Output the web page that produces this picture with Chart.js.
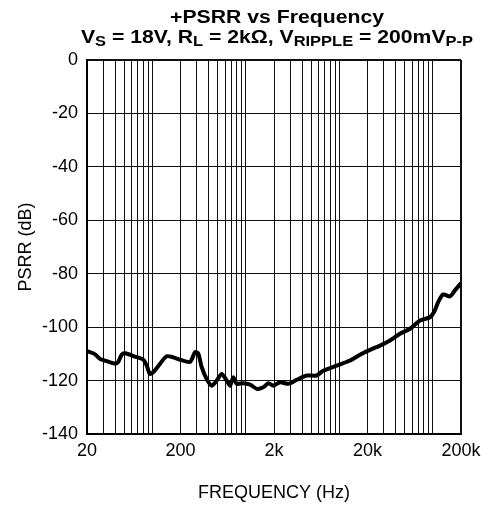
<!DOCTYPE html>
<html>
<head>
<meta charset="UTF-8">
<title>+PSRR vs Frequency</title>
<script src="https://cdn.jsdelivr.net/npm/chart.js@4.4.1/dist/chart.umd.min.js"></script>
<style>
  body { margin: 0; background: #fff; }
  #wrap { width: 490px; height: 508px; }
</style>
</head>
<body>
<div id="wrap"><canvas id="psrr" width="490" height="508"></canvas></div>
<script>
// frequency points (Hz)
const freqHz = [20, 24, 27.5, 31, 40, 43, 47, 51, 65, 80, 87, 94, 102, 121, 142, 168, 198,
  253, 286, 310, 337, 381, 431, 488, 552, 624, 677, 734, 798, 939, 1110, 1310, 1540, 1740,
  1970, 2320, 2840, 3500, 4480, 5720, 6730, 9370, 13000, 16600, 21300, 27200, 34800, 44500,
  57000, 72900, 93200, 105000, 114000, 129000, 152000, 172000, 195000, 200000];
// +PSRR (dB)
const psrrDb = [-109, -110, -111.9, -112.5, -113.7, -113.1, -110.3, -109.8, -111, -112.2, -114.4,
  -117.5, -116.9, -113.7, -110.9, -111.3, -112.2, -113, -109.4, -109.9, -115, -119.4, -121.9,
  -120, -117.5, -120, -121.9, -118.8, -121.2, -121, -121.5, -123.1, -122.5, -121, -121.9, -120.6,
  -121.2, -119.7, -118.1, -118.1, -116.3, -114.4, -112.5, -110.3, -108.5, -106.9, -105, -102.5,
  -100.6, -97.5, -96.3, -93.75, -90.6, -87.75, -88.5, -86.25, -84, -83.5];

const xTickValues = [20, 200, 2000, 20000, 200000];
const xTickLabels = ['20', '200', '2k', '20k', '200k'];

const titleLine1 = [{ t: '+PSRR vs Frequency' }];
const titleLine2 = [
  { t: 'V' }, { t: 'S', sub: true }, { t: ' = 18V, R' }, { t: 'L', sub: true },
  { t: ' = 2k\u03A9, V' }, { t: 'RIPPLE', sub: true }, { t: ' = 200mV' }, { t: 'P-P', sub: true }
];

const FONT = '"Liberation Sans", Arial, Helvetica, sans-serif';

// log grid: 1..9 x each decade, between 20 and 200k
const gridVals = [];
for (let d = 10; d <= 100000; d *= 10) {
  for (let m = 1; m <= 9; m++) {
    const v = m * d;
    if (v >= 20 && v <= 200000) gridVals.push(v);
  }
}

function drawRuns(ctx, runs, x0, baseline, targetW) {
  const mainFont = 'bold 18px ' + FONT;
  const subFont = 'bold 14px ' + FONT;
  let natural = 0;
  runs.forEach(r => {
    ctx.font = r.sub ? subFont : mainFont;
    natural += ctx.measureText(r.t).width;
  });
  const sx = targetW / natural;
  ctx.save();
  ctx.translate(x0, 0);
  ctx.scale(sx, 1);
  ctx.fillStyle = '#000';
  ctx.textBaseline = 'alphabetic';
  ctx.textAlign = 'left';
  let x = 0;
  runs.forEach(r => {
    ctx.font = r.sub ? subFont : mainFont;
    ctx.fillText(r.t, x, r.sub ? baseline + 3 : baseline);
    x += ctx.measureText(r.t).width;
  });
  ctx.restore();
}

const titlePlugin = {
  id: 'twoLineTitle',
  afterDraw(chart) {
    const ctx = chart.ctx;
    drawRuns(ctx, titleLine1, 170, 23, 214);
    drawRuns(ctx, titleLine2, 81, 42.5, 392);
  }
};

new Chart(document.getElementById('psrr'), {
  type: 'line',
  data: {
    datasets: [{
      label: '+PSRR',
      data: freqHz.map((f, i) => ({ x: f, y: psrrDb[i] })),
      borderColor: '#000',
      borderWidth: 4,
      pointRadius: 0,
      tension: 0.25,
      fill: false
    }]
  },
  options: {
    responsive: false,
    animation: false,
    layout: { padding: { top: 60, right: 29, bottom: 0, left: 0 } },
    plugins: {
      legend: { display: false },
      tooltip: { enabled: false }
    },
    scales: {
      x: {
        type: 'logarithmic',
        min: 20,
        max: 200000,
        afterFit(scale) { scale.height = 74; },
        afterBuildTicks(scale) { scale.ticks = gridVals.map(v => ({ value: v })); },
        ticks: {
          autoSkip: false,
          maxRotation: 0,
          padding: 6,
          color: '#000',
          font: { family: FONT, size: 18 },
          callback(value) {
            const k = xTickValues.indexOf(value);
            return k >= 0 ? xTickLabels[k] : '';
          }
        },
        grid: {
          color: '#111',
          lineWidth: c => (c.tick && c.tick.value === 200000 ? 2 : 1),
          drawTicks: false
        },
        border: { display: true, color: '#000', width: 2 },
        title: {
          display: true,
          text: 'FREQUENCY (Hz)',
          color: '#000',
          font: { family: FONT, size: 18 },
          padding: { top: 0, bottom: 4 }
        }
      },
      y: {
        min: -140,
        max: 0,
        afterFit(scale) { scale.width = 87; },
        ticks: {
          stepSize: 20,
          padding: 9,
          color: '#000',
          font: { family: FONT, size: 18 }
        },
        grid: {
          color: '#111',
          lineWidth: c => (c.tick && c.tick.value === 0 ? 2 : 1),
          drawTicks: false
        },
        border: { display: true, color: '#000', width: 2 },
        title: {
          display: true,
          text: 'PSRR (dB)',
          color: '#000',
          font: { family: FONT, size: 18 },
          padding: { top: 15, bottom: 0 }
        }
      }
    }
  },
  plugins: [titlePlugin]
});
</script>
</body>
</html>
